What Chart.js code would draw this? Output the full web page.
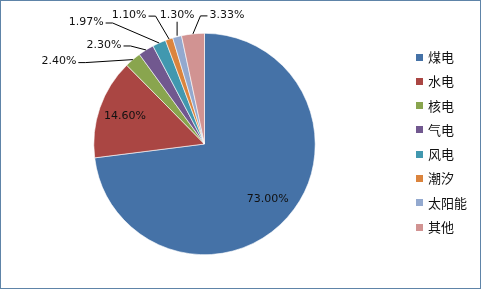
<html><head>
<meta charset="UTF-8">
<title>发电结构</title>
<script src="https://cdn.jsdelivr.net/npm/chart.js"></script>
<style>
* { margin: 0; padding: 0; box-sizing: border-box; }
body { background: #fff; }
.wrap { position: relative; width: 481px; height: 289px; }
</style>
</head>
<body>
<div class="wrap"><canvas id="pieChart"></canvas></div>
<script>
// data
const categories = ['煤电', '水电', '核电', '气电', '风电', '潮汐', '太阳能', '其他'];
const shares = [73.00, 14.60, 2.40, 2.30, 1.97, 1.10, 1.30, 3.33];
const colors = ['#4572A7', '#AA4643', '#89A54E', '#71588F', '#4198AF', '#DB843D', '#93A9CF', '#D19392'];

// label layout: inside labels sit on a ratio of the radius, outside ones are offset from the slice edge
const labelLayout = [
  { inside: 0.76 },
  { inside: 0.76 },
  { dx: -74, dy: 2 },
  { dx: -42, dy: -5 },
  { dx: -73, dy: -21 },
  { dx: -40, dy: -24 },
  { dx: 0, dy: -22 },
  { dx: 34, dy: -19 }
];

const labelFont = '11px "DejaVu Sans", Verdana, sans-serif';
const legendFont = '13px "Noto Sans CJK SC", sans-serif';

const pieLabels = {
  id: 'pieLabels',
  afterDatasetsDraw(chart) {
    const ctx = chart.ctx;
    const meta = chart.getDatasetMeta(0);
    ctx.save();
    ctx.font = labelFont;
    ctx.fillStyle = '#111';
    ctx.strokeStyle = '#000';
    ctx.lineWidth = 1;
    ctx.textBaseline = 'middle';
    ctx.textAlign = 'center';
    meta.data.forEach((arc, i) => {
      const mid = (arc.startAngle + arc.endAngle) / 2;
      const text = shares[i].toFixed(2) + '%';
      const lay = labelLayout[i];
      if (lay.inside) {
        const r = arc.outerRadius * lay.inside;
        ctx.fillText(text, arc.x + Math.cos(mid) * r, arc.y + Math.sin(mid) * r);
        return;
      }
      const ex = arc.x + Math.cos(mid) * arc.outerRadius;
      const ey = arc.y + Math.sin(mid) * arc.outerRadius;
      const tx = ex + lay.dx, ty = ey + lay.dy;
      const w = ctx.measureText(text).width;
      ctx.fillText(text, tx, ty);
      ctx.beginPath();
      if (Math.abs(lay.dx) < 4) {
        ctx.moveTo(tx, ty + 7);
        ctx.lineTo(ex, ey - 1);
      } else {
        const side = lay.dx < 0 ? 1 : -1;
        const sx = tx + side * (w / 2 + 2);
        ctx.moveTo(sx, ty + 1);
        ctx.lineTo(sx + side * 7, ty + 1);
        ctx.lineTo(ex, ey);
      }
      ctx.stroke();
    });
    ctx.restore();
  },
  afterDraw(chart) {
    const ctx = chart.ctx;
    ctx.save();
    // legend
    ctx.font = legendFont;
    ctx.textBaseline = 'middle';
    ctx.textAlign = 'left';
    categories.forEach((c, i) => {
      const y = 57 + i * 24.3;
      ctx.fillStyle = colors[i];
      ctx.fillRect(416, Math.round(y - 3.5), 7, 7);
      ctx.fillStyle = '#111';
      ctx.fillText(c, 428, y);
    });
    // frame
    ctx.strokeStyle = '#5E84A8';
    ctx.lineWidth = 1;
    ctx.strokeRect(0.5, 0.5, chart.width - 1, chart.height - 1);
    ctx.restore();
  }
};

new Chart(document.getElementById('pieChart'), {
  type: 'pie',
  data: {
    labels: categories,
    datasets: [{
      data: shares,
      backgroundColor: colors,
      borderColor: '#ffffff',
      borderWidth: 0.6
    }]
  },
  options: {
    responsive: true,
    maintainAspectRatio: false,
    animation: false,
    layout: { padding: { left: 93, right: 165, top: 33, bottom: 34 } },
    plugins: {
      legend: { display: false },
      tooltip: { enabled: false }
    }
  },
  plugins: [pieLabels]
});
</script>
</body></html>
